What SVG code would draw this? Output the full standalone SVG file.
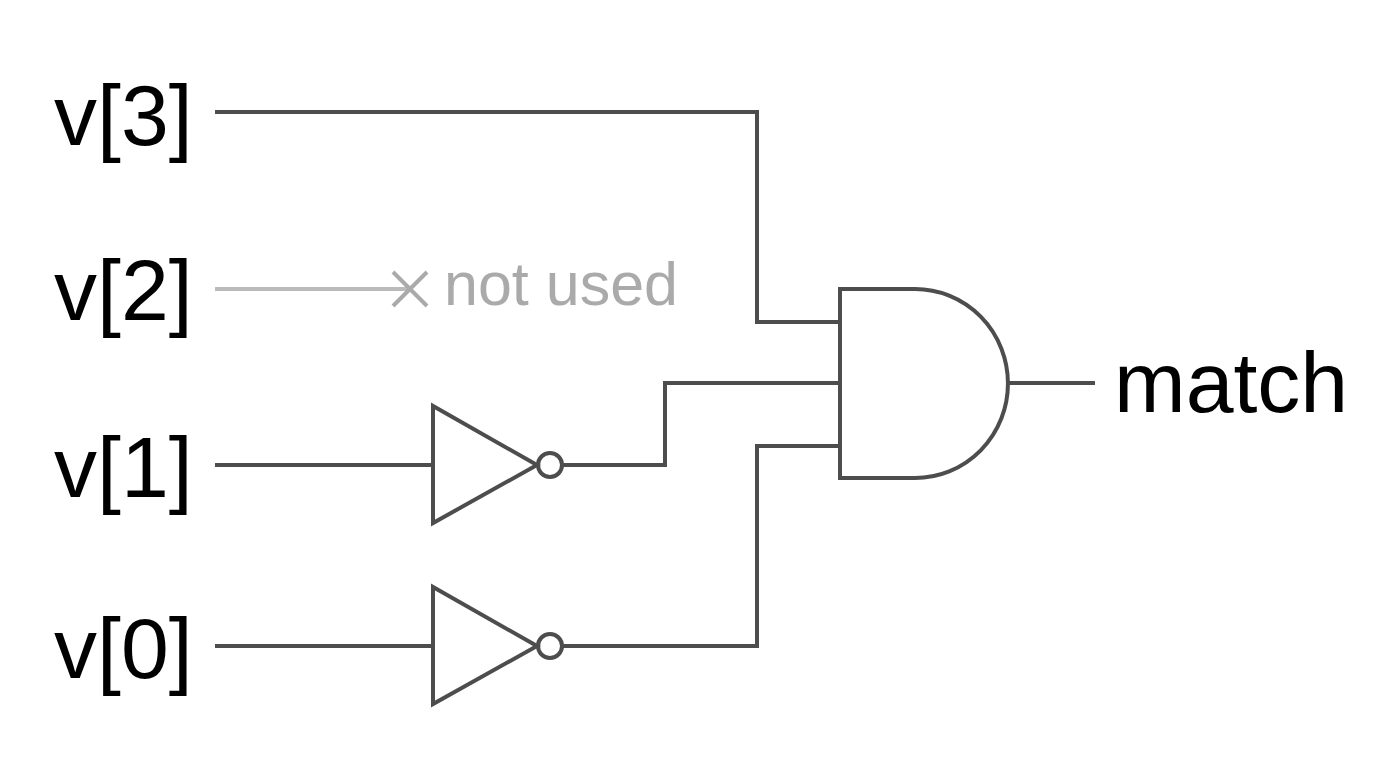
<svg xmlns="http://www.w3.org/2000/svg" width="1376" height="768" viewBox="0 0 1376 768">
<style>
.w{fill:none;stroke:#4d4d4d;stroke-width:4}
.g{fill:none;stroke:#4d4d4d;stroke-width:4;stroke-linejoin:miter}
.lbl{font-family:"Liberation Sans",Arial,sans-serif;font-size:86px;fill:#000}
.nu{font-family:"Liberation Sans",Arial,sans-serif;font-size:61px;fill:#aaa}
</style>
<rect width="1376" height="768" fill="#fff"/>
<g id="labels">
<text class="lbl" x="54" y="145">v[3]</text>
<text class="lbl" x="54" y="320">v[2]</text>
<text class="lbl" x="54" y="497">v[1]</text>
<text class="lbl" x="54" y="678">v[0]</text>
<text class="lbl" x="1114" y="412">match</text>
</g>
<g id="connectors">
<polyline class="w" points="215,112 757,112 757,322 840,322"/>
<line x1="215" y1="289" x2="410" y2="289" stroke="#bbb" stroke-width="4"/>
<line x1="215" y1="465" x2="433" y2="465" class="w"/>
<polyline class="w" points="562,465 665,465 665,383 840,383"/>
<line x1="215" y1="646" x2="433" y2="646" class="w"/>
<polyline class="w" points="562,646 757,646 757,446 840,446"/>
<line x1="1008" y1="383" x2="1095" y2="383" class="w"/>
</g>
<g id="notused">
<path d="M393,272 L427,306 M427,272 L393,306" stroke="#aaa" stroke-width="4"/>
<text class="nu" x="444" y="305">not used</text>
</g>
<g id="not1">
<polygon class="g" points="433,406 433,523 537,465"/>
<circle class="w" cx="550" cy="465" r="12"/>
</g>
<g id="not0">
<polygon class="g" points="433,587 433,704 537,646"/>
<circle class="w" cx="550" cy="646" r="12"/>
</g>
<g id="and">
<path class="g" d="M840,289 L915,289 A93,94.5 0 0 1 915,478 L840,478 Z"/>
</g>
</svg>
